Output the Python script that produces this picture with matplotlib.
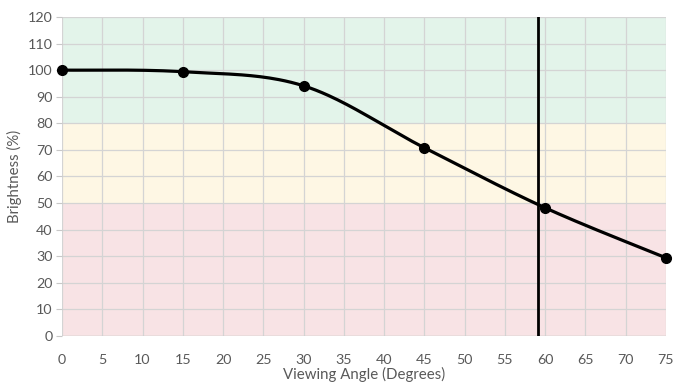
import matplotlib
matplotlib.use("Agg")
import matplotlib.pyplot as plt
import numpy as np

plt.rcParams["font.family"] = ["Lato", "DejaVu Sans"]

angles = [0, 15, 30, 45, 60, 75]
brightness = [100, 99.4, 94.1, 70.8, 48.2, 29.4]
cutoff_angle = 59.1
bands = [(0, 50, "#f8e3e5"), (50, 80, "#fef7e4"), (80, 120, "#e3f4ea")]
x_ticks = list(range(0, 80, 5))
y_ticks = list(range(0, 130, 10))
text_gray = "#595959"


def smooth(xs, ys, n=40):
    # Excel-style smoothed line: cubic Bezier with Catmull-Rom control points
    xs = np.asarray(xs, float)
    ys = np.asarray(ys, float)
    px = np.concatenate([[xs[0]], xs, [xs[-1]]])
    py = np.concatenate([[ys[0]], ys, [ys[-1]]])
    out_x, out_y = [], []
    t = np.linspace(0, 1, n)
    for i in range(1, len(px) - 2):
        p0 = np.array([px[i], py[i]])
        p3 = np.array([px[i + 1], py[i + 1]])
        c1 = p0 + (np.array([px[i + 1], py[i + 1]]) - np.array([px[i - 1], py[i - 1]])) / 6
        c2 = p3 - (np.array([px[i + 2], py[i + 2]]) - np.array([px[i], py[i]])) / 6
        b = ((1 - t) ** 3)[:, None] * p0 + (3 * (1 - t) ** 2 * t)[:, None] * c1 \
            + (3 * (1 - t) * t ** 2)[:, None] * c2 + (t ** 3)[:, None] * p3
        out_x.extend(b[:, 0])
        out_y.extend(b[:, 1])
    return out_x, out_y


fig = plt.figure(figsize=(6.92, 3.9), dpi=100)
ax = fig.add_axes([0.0896, 0.1385, 0.8728, 0.818])

for lo, hi, col in bands:
    ax.axhspan(lo, hi, color=col, zorder=0, lw=0)

ax.set_xlim(0, 75)
ax.set_ylim(0, 120)
ax.set_xticks(x_ticks)
ax.set_yticks(y_ticks)
ax.grid(True, color="#d4d4d4", lw=0.9, zorder=1)
ax.set_axisbelow(True)

sx, sy = smooth(angles, brightness)
ax.plot(sx, sy, color="black", lw=2.3, zorder=3, clip_on=False)
ax.plot(angles, brightness, "o", color="black", ms=7, zorder=4, clip_on=False)
ax.axvline(cutoff_angle, color="black", lw=2, zorder=5)

for s in ax.spines.values():
    s.set_visible(False)
ax.axhline(0, color="#c8c8c8", lw=1, zorder=2)

ax.tick_params(axis="x", length=0, pad=13, labelsize=10.3, labelcolor=text_gray)
ax.tick_params(axis="y", length=4, width=0.8, color="#c8c8c8", pad=3, labelsize=10.3, labelcolor=text_gray)
ax.set_xlabel("Viewing Angle (Degrees)", fontsize=10.8, color=text_gray, labelpad=1)
ax.set_ylabel("Brightness (%)", fontsize=10.8, color=text_gray, labelpad=4)

fig.savefig("out.png", dpi=100)
